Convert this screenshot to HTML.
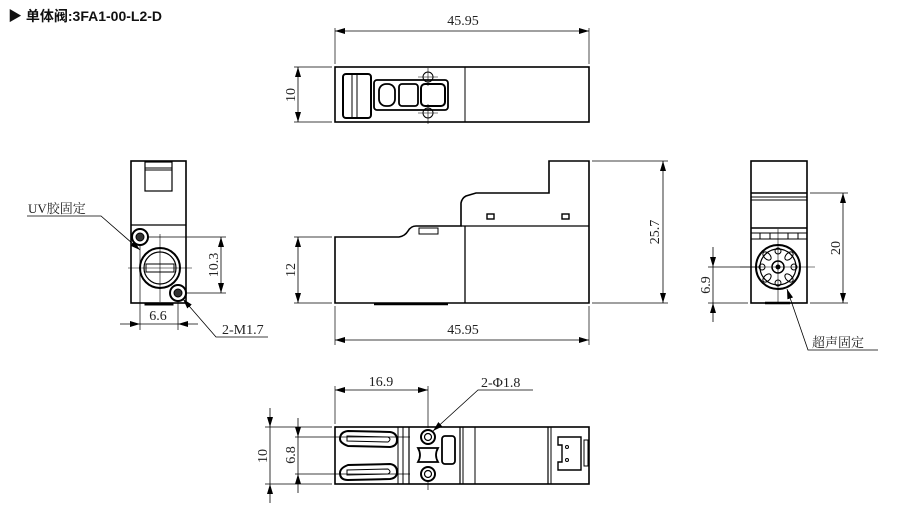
<!DOCTYPE html>
<html><head><meta charset="utf-8"><style>
html,body{margin:0;padding:0;background:#fff;width:902px;height:508px;overflow:hidden}
svg{display:block}
.t{font-family:"Liberation Serif","Noto Serif CJK SC",serif;font-size:14px;fill:#222}
</style></head><body>
<svg width="902" height="508" viewBox="0 0 902 508" xmlns="http://www.w3.org/2000/svg">
<defs>
<marker id="a" viewBox="0 0 10 6" refX="10" refY="3" markerWidth="10" markerHeight="6" orient="auto-start-reverse" markerUnits="userSpaceOnUse"><path d="M0,0L10,3L0,6z" fill="#000"/></marker>
</defs>
<text x="8" y="21" style="font-family:'Liberation Sans','Noto Sans CJK SC',sans-serif;font-size:14px;font-weight:bold" fill="#111">▶ 单体阀:3FA1-00-L2-D</text>

<g fill="none" stroke="#000" stroke-width="1">
<!-- TOP VIEW -->
<rect x="335" y="67" width="254" height="55" stroke-width="1.6"/>
<line x1="465" y1="67" x2="465" y2="122"/>
<rect x="343" y="74" width="28" height="44" rx="3" stroke-width="2"/>
<line x1="352" y1="75" x2="352" y2="117"/><line x1="357" y1="75" x2="357" y2="117"/>
<rect x="374" y="80" width="74" height="30" rx="3" stroke-width="1.8"/>
<rect x="379" y="84" width="16" height="22" rx="7" stroke-width="1.8"/>
<rect x="399" y="84" width="19" height="22" rx="3" stroke-width="1.8"/>
<rect x="421" y="84" width="24" height="22" rx="4" stroke-width="2"/>
<circle cx="428" cy="77" r="5"/><circle cx="428" cy="113" r="5"/>
<line x1="418" y1="77" x2="438" y2="77" stroke-width=".6"/><line x1="428" y1="68" x2="428" y2="86" stroke-width=".6"/>
<line x1="418" y1="113" x2="438" y2="113" stroke-width=".6"/><line x1="428" y1="104" x2="428" y2="124" stroke-width=".6"/>
<line x1="335" y1="64" x2="335" y2="28" stroke-width=".7"/><line x1="589" y1="64" x2="589" y2="28" stroke-width=".7"/>
<line x1="335" y1="31" x2="589" y2="31" stroke-width=".8" marker-start="url(#a)" marker-end="url(#a)"/>
<line x1="294" y1="67" x2="332" y2="67" stroke-width=".7"/><line x1="294" y1="122" x2="332" y2="122" stroke-width=".7"/>
<line x1="298" y1="67" x2="298" y2="122" stroke-width=".8" marker-start="url(#a)" marker-end="url(#a)"/>

<!-- FRONT VIEW -->
<path d="M335,237 L399,237 Q405,236 408,231 Q411,226 416,226 L461,226 L461,203 Q462,198 466,196 L476,193 L549,193 L549,161 L589,161 L589,303 L335,303 Z" stroke-width="1.6"/>
<line x1="465" y1="226" x2="465" y2="303" stroke-width="1.3"/>
<line x1="461" y1="226" x2="589" y2="226" stroke-width="1.3"/>
<rect x="419" y="228" width="19" height="6" stroke-width="1"/>
<rect x="487" y="214" width="7" height="5" stroke-width="1.4"/>
<rect x="562" y="214" width="7" height="5" stroke-width="1.4"/>
<line x1="374" y1="304" x2="448" y2="304" stroke-width="2.4"/>
<line x1="592" y1="161" x2="668" y2="161" stroke-width=".7"/><line x1="592" y1="303" x2="668" y2="303" stroke-width=".7"/>
<line x1="663" y1="161" x2="663" y2="303" stroke-width=".8" marker-start="url(#a)" marker-end="url(#a)"/>
<line x1="294" y1="237" x2="332" y2="237" stroke-width=".7"/><line x1="294" y1="303" x2="332" y2="303" stroke-width=".7"/>
<line x1="298" y1="237" x2="298" y2="303" stroke-width=".8" marker-start="url(#a)" marker-end="url(#a)"/>
<line x1="335" y1="306" x2="335" y2="345" stroke-width=".7"/><line x1="589" y1="306" x2="589" y2="345" stroke-width=".7"/>
<line x1="335" y1="340" x2="589" y2="340" stroke-width=".8" marker-start="url(#a)" marker-end="url(#a)"/>

<!-- LEFT VIEW -->
<rect x="131" y="161" width="55" height="142" stroke-width="1.6"/>
<line x1="131" y1="225" x2="186" y2="225" stroke-width="1.2"/>
<rect x="145" y="162" width="27" height="29" stroke-width="1.2"/>
<line x1="145" y1="168" x2="172" y2="168"/><line x1="145" y1="170" x2="172" y2="170"/>
<rect x="145" y="303" width="28" height="2" fill="#000"/>
<circle cx="160" cy="268" r="20" stroke-width="2"/>
<circle cx="160" cy="268" r="16" stroke-width="1.2"/>
<rect x="146" y="264" width="28" height="8" stroke-width="1"/>
<line x1="128" y1="268" x2="192" y2="268" stroke-width=".6"/>
<line x1="160" y1="234" x2="160" y2="302" stroke-width=".6"/>
<circle cx="140" cy="237" r="8" stroke-width="2"/><circle cx="140" cy="237" r="4" fill="#333"/>
<circle cx="178" cy="293" r="8" stroke-width="2"/><circle cx="178" cy="293" r="4" fill="#333"/>
<line x1="148" y1="237" x2="226" y2="237" stroke-width=".7"/><line x1="186" y1="293" x2="226" y2="293" stroke-width=".7"/>
<line x1="221" y1="237" x2="221" y2="293" stroke-width=".8" marker-start="url(#a)" marker-end="url(#a)"/>
<line x1="140" y1="245" x2="140" y2="330" stroke-width=".7"/><line x1="178" y1="301" x2="178" y2="330" stroke-width=".7"/>
<line x1="120" y1="324" x2="140" y2="324" stroke-width=".8" marker-end="url(#a)"/>
<line x1="140" y1="324" x2="178" y2="324" stroke-width=".8"/>
<line x1="198" y1="324" x2="178" y2="324" stroke-width=".8" marker-end="url(#a)"/>
<polyline points="27,216 101,216 140,250" stroke-width=".8" marker-end="url(#a)"/>
<polyline points="268,337 216,337 183,299" stroke-width=".8" marker-end="url(#a)"/>

<!-- RIGHT VIEW -->
<rect x="751" y="161" width="56" height="142" stroke-width="1.6"/>
<line x1="751" y1="193" x2="807" y2="193" stroke-width="1.4"/>
<line x1="751" y1="197" x2="807" y2="197"/><line x1="751" y1="200" x2="807" y2="200"/>
<line x1="751" y1="228" x2="807" y2="228" stroke-width="1.4"/>
<line x1="751" y1="233" x2="807" y2="233"/>
<line x1="760" y1="233" x2="760" y2="239"/><line x1="770" y1="233" x2="770" y2="239"/><line x1="788" y1="233" x2="788" y2="239"/><line x1="798" y1="233" x2="798" y2="239"/>
<line x1="751" y1="239" x2="807" y2="239"/>
<line x1="765" y1="303" x2="790" y2="303" stroke-width="2.4"/>
<circle cx="778" cy="267" r="22" stroke-width="2"/>
<circle cx="778" cy="267" r="18" stroke-width="1.2"/>
<circle cx="778" cy="267" r="6" stroke-width="1.5"/><circle cx="778" cy="267" r="2" fill="#000"/>
<circle cx="778" cy="251" r="3"/><circle cx="778" cy="283" r="3"/><circle cx="762" cy="267" r="3"/><circle cx="794" cy="267" r="3"/>
<ellipse cx="767" cy="256" rx="5" ry="3" transform="rotate(45 767 256)"/><ellipse cx="789" cy="256" rx="5" ry="3" transform="rotate(-45 789 256)"/>
<ellipse cx="767" cy="278" rx="5" ry="3" transform="rotate(-45 767 278)"/><ellipse cx="789" cy="278" rx="5" ry="3" transform="rotate(45 789 278)"/>
<line x1="740" y1="267" x2="815" y2="267" stroke-width=".6"/><line x1="778" y1="229" x2="778" y2="303" stroke-width=".6"/>
<line x1="810" y1="193" x2="848" y2="193" stroke-width=".7"/><line x1="810" y1="303" x2="848" y2="303" stroke-width=".7"/>
<line x1="843" y1="193" x2="843" y2="303" stroke-width=".8" marker-start="url(#a)" marker-end="url(#a)"/>
<line x1="708" y1="267" x2="760" y2="267" stroke-width=".7"/><line x1="708" y1="303" x2="748" y2="303" stroke-width=".7"/>
<line x1="713" y1="247" x2="713" y2="267" stroke-width=".8" marker-end="url(#a)"/>
<line x1="713" y1="267" x2="713" y2="303" stroke-width=".8"/>
<line x1="713" y1="322" x2="713" y2="303" stroke-width=".8" marker-end="url(#a)"/>
<polyline points="878,350 808,350 787,289" stroke-width=".8" marker-end="url(#a)"/>

<!-- BOTTOM VIEW -->
<rect x="335" y="427" width="254" height="57" stroke-width="1.6"/>
<line x1="398" y1="427" x2="398" y2="484"/><line x1="403" y1="427" x2="403" y2="484"/><line x1="409" y1="427" x2="409" y2="484" stroke-width="1.2"/>
<line x1="460" y1="427" x2="460" y2="484" stroke-width="1.2"/>
<line x1="463" y1="427" x2="463" y2="484"/><line x1="475" y1="427" x2="475" y2="484"/>
<line x1="548" y1="427" x2="548" y2="484" stroke-width="1.2"/><line x1="551" y1="427" x2="551" y2="484"/>
<path d="M348,431 L390,432 Q397,433 397,440 Q397,446 390,447 L348,446 Q340,443 340,439 Q340,432 348,431Z" stroke-width="2"/>
<path d="M347,436 L388,437 Q392,439 388,442 L347,441Z" stroke-width="1"/>
<path d="M348,480 L390,479 Q397,478 397,472 Q397,465 390,464 L348,465 Q340,468 340,473 Q340,480 348,480Z" stroke-width="2"/>
<path d="M347,475 L388,474 Q392,472 388,469 L347,470Z" stroke-width="1"/>
<circle cx="428" cy="437" r="7" stroke-width="2"/><circle cx="428" cy="437" r="3.5" stroke-width="1.2"/>
<circle cx="428" cy="474" r="7" stroke-width="2"/><circle cx="428" cy="474" r="3.5" stroke-width="1.2"/>
<path d="M418,448 L438,448 Q434,455 438,462 L418,462 Q422,455 418,448Z" stroke-width="1.8"/>
<rect x="442" y="436" width="13" height="28" rx="3" stroke-width="1.8"/>
<path d="M558,437 L581,437 L581,470 L558,470 L558,462 L562,462 L562,445 L558,445Z" stroke-width="1.4"/>
<circle cx="567" cy="447" r="1.5"/><circle cx="567" cy="460" r="1.5"/>
<rect x="584" y="440" width="4" height="26" stroke-width="1"/>
<line x1="295" y1="437" x2="410" y2="437" stroke-width=".7"/><line x1="295" y1="474" x2="410" y2="474" stroke-width=".7"/>
<line x1="265" y1="427" x2="332" y2="427" stroke-width=".7"/><line x1="265" y1="484" x2="332" y2="484" stroke-width=".7"/>
<line x1="270" y1="408" x2="270" y2="427" stroke-width=".8" marker-end="url(#a)"/>
<line x1="270" y1="427" x2="270" y2="484" stroke-width=".8"/>
<line x1="270" y1="503" x2="270" y2="484" stroke-width=".8" marker-end="url(#a)"/>
<line x1="298" y1="418" x2="298" y2="437" stroke-width=".8" marker-end="url(#a)"/>
<line x1="298" y1="437" x2="298" y2="474" stroke-width=".8"/>
<line x1="298" y1="493" x2="298" y2="474" stroke-width=".8" marker-end="url(#a)"/>
<line x1="335" y1="424" x2="335" y2="386" stroke-width=".7"/><line x1="428" y1="428" x2="428" y2="386" stroke-width=".7"/>
<line x1="428" y1="490" x2="428" y2="482" stroke-width=".7"/>
<line x1="335" y1="390" x2="428" y2="390" stroke-width=".8" marker-start="url(#a)" marker-end="url(#a)"/>
<polyline points="533,390 478,390 433,431" stroke-width=".8" marker-end="url(#a)"/>
</g>

<g class="t">
<text x="463" y="25" text-anchor="middle">45.95</text>
<text x="463" y="334" text-anchor="middle">45.95</text>
<text transform="translate(295,95) rotate(-90)" text-anchor="middle">10</text>
<text transform="translate(295,270) rotate(-90)" text-anchor="middle">12</text>
<text transform="translate(659,232) rotate(-90)" text-anchor="middle">25.7</text>
<text transform="translate(218,265) rotate(-90)" text-anchor="middle">10.3</text>
<text x="158" y="320" text-anchor="middle">6.6</text>
<text x="28" y="213" style="font-size:13px">UV胶固定</text>
<text x="222" y="334">2-M1.7</text>
<text transform="translate(840,248) rotate(-90)" text-anchor="middle">20</text>
<text transform="translate(710,285) rotate(-90)" text-anchor="middle">6.9</text>
<text x="812" y="347" style="font-size:13px">超声固定</text>
<text x="381" y="386" text-anchor="middle">16.9</text>
<text x="481" y="387">2-Φ1.8</text>
<text transform="translate(267,456) rotate(-90)" text-anchor="middle">10</text>
<text transform="translate(295,455) rotate(-90)" text-anchor="middle">6.8</text>
</g>
</svg>
</body></html>
